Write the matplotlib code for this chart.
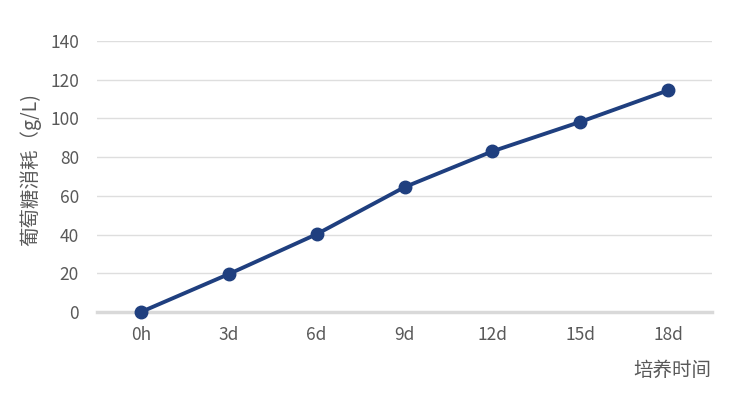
import matplotlib
matplotlib.use("Agg")
import matplotlib.pyplot as plt

categories = ["0h", "3d", "6d", "9d", "12d", "15d", "18d"]
values = [0, 19.6, 40.2, 64.5, 83.0, 98.2, 114.5]
yticks = [0, 20, 40, 60, 80, 100, 120, 140]

plt.rcParams['font.family'] = ['Noto Sans CJK SC', 'DejaVu Sans']

fig = plt.figure(figsize=(7.3, 4.0), dpi=100)
ax = fig.add_axes([97/730, 1-312/400, 615/730, 271/400])

x = list(range(len(categories)))
ax.plot(x, values, color="#1f3f7f", lw=2.8, marker="o", ms=9, zorder=3, clip_on=False)

ax.set_xlim(-0.5, len(categories) - 0.5)
ax.set_ylim(0, 140)
ax.set_yticks(yticks)
ax.set_xticks(x)
ax.set_xticklabels(categories)
ax.grid(axis="y", color="#dedede", lw=1)
ax.set_axisbelow(True)
for s in ["top", "right", "left"]:
    ax.spines[s].set_visible(False)
ax.spines["bottom"].set_color("#d9d9d9")
ax.spines["bottom"].set_linewidth(2.5)
ax.tick_params(axis="both", length=0, labelsize=12.5, colors="#595959")
ax.tick_params(axis="y", pad=13)
ax.tick_params(axis="x", pad=10)

fig.text(30/730, 1-170/400, "葡萄糖消耗（g/L)", rotation=90, ha="center", va="center",
         fontsize=14, color="#595959")
fig.text(711/730, 1-370/400, "培养时间", ha="right", va="center", fontsize=14, color="#595959")

fig.savefig("out.png", dpi=100)
